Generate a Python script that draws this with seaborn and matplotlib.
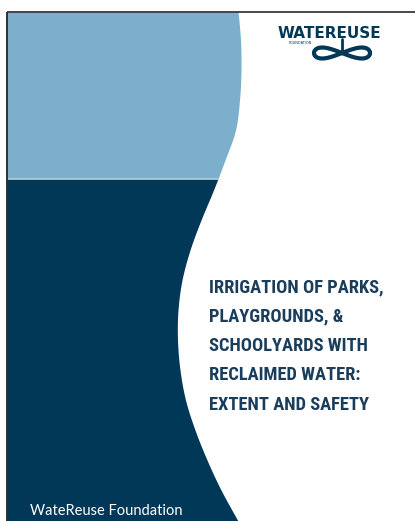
import matplotlib
matplotlib.use('Agg')

import matplotlib.pyplot as plt
import seaborn as sns
import numpy as np

# cover texts
title_lines = ['IRRIGATION OF PARKS,', 'PLAYGROUNDS, &', 'SCHOOLYARDS WITH',
               'RECLAIMED WATER:', 'EXTENT AND SAFETY']
publisher = 'WateReuse Foundation'
logo_word = 'WATEREUSE'
logo_small = 'FOUNDATION'

# wave edge of the left panel (y, x) in pixels
edge_y = [11, 40, 70, 100, 130, 160, 190, 220, 250, 280, 310, 340, 370, 400, 430, 460, 490, 521]
edge_x = [238, 240.5, 241, 239.5, 235.5, 225, 213.5, 201, 190, 182, 178, 177.5, 180, 185.5, 195, 207, 221, 238]

light_blue = '#7BAFCC'
navy = '#013757'
text_navy = '#1a3d5c'


def catmull_rom(xs, ys, n=25):
    pts = np.column_stack([xs, ys])
    pts = np.vstack([pts[0], pts, pts[-1]])
    out = []
    for i in range(1, len(pts) - 2):
        p0, p1, p2, p3 = pts[i - 1], pts[i], pts[i + 1], pts[i + 2]
        t = np.linspace(0, 1, n, endpoint=False)[:, None]
        seg = 0.5 * ((2 * p1) + (-p0 + p2) * t + (2 * p0 - 5 * p1 + 4 * p2 - p3) * t ** 2
                     + (-p0 + 3 * p1 - 3 * p2 + p3) * t ** 3)
        out.append(seg)
    out.append(pts[-2][None, :])
    out = np.vstack(out)
    return out[:, 0], out[:, 1]


def main():
    sns.set_style('white')
    fig = plt.figure(figsize=(4.15, 5.21), dpi=100)
    ax = fig.add_axes([0, 0, 1, 1])
    ax.set_xlim(0, 415)
    ax.set_ylim(521, 0)
    ax.axis('off')

    ex, ey = catmull_rom(edge_x, edge_y)
    split = 178.5
    xs = np.interp(split, ey, ex)
    top = ey < split
    ax.fill_betweenx(np.append(ey[top], split), 7, np.append(ex[top], xs), color=light_blue, lw=0)
    ax.fill_betweenx(np.append(split, ey[~top]), 7, np.append(xs, ex[~top]), color=navy, lw=0)
    ax.plot([7, xs], [split, split], color='#b8cfdd', lw=1.2)

    # frame lines
    ax.plot([7, 415], [11.5, 11.5], color='#3c3c3c', lw=1.3, solid_capstyle='butt')
    ax.plot([7, 7], [11.5, 521], color='#222222', lw=1.3, solid_capstyle='butt')

    # title, fitted so the first line is as wide as in the picture
    fam = ['Noto Sans Condensed', 'Roboto Condensed', 'Roboto']
    texts = []
    for i, line in enumerate(title_lines):
        texts.append(ax.text(209, 292 + i * 29.5, line, color=text_navy, fontsize=15,
                             fontweight='bold', family=fam, fontstretch='condensed',
                             ha='left', va='baseline'))
    renderer = fig.canvas.get_renderer()
    w = texts[0].get_window_extent(renderer).width
    size = min(15.5, 15 * 176 / w)
    for t in texts:
        t.set_fontsize(size)

    # publisher
    ax.text(30, 515, publisher, color='white', fontsize=10.5, family=['Lato', 'DejaVu Sans'],
            ha='left', va='baseline')

    # logo
    ax.text(329, 38, logo_word, color=navy, fontsize=11, fontweight='bold',
            family='DejaVu Sans', ha='center', va='baseline')
    ax.text(300, 41.5, logo_small, color=navy, fontsize=2.5, family='DejaVu Sans',
            ha='center', va='top')
    t = np.linspace(0, 2 * np.pi, 200)
    ax.plot(342 + 28 * np.cos(t), 53 + 5.5 * np.sin(2 * t), color=navy, lw=3)
    ax.plot([342, 342], [39, 53], color=navy, lw=2)

    fig.savefig('out.png', dpi=100)


if __name__ == "__main__":
    main()
